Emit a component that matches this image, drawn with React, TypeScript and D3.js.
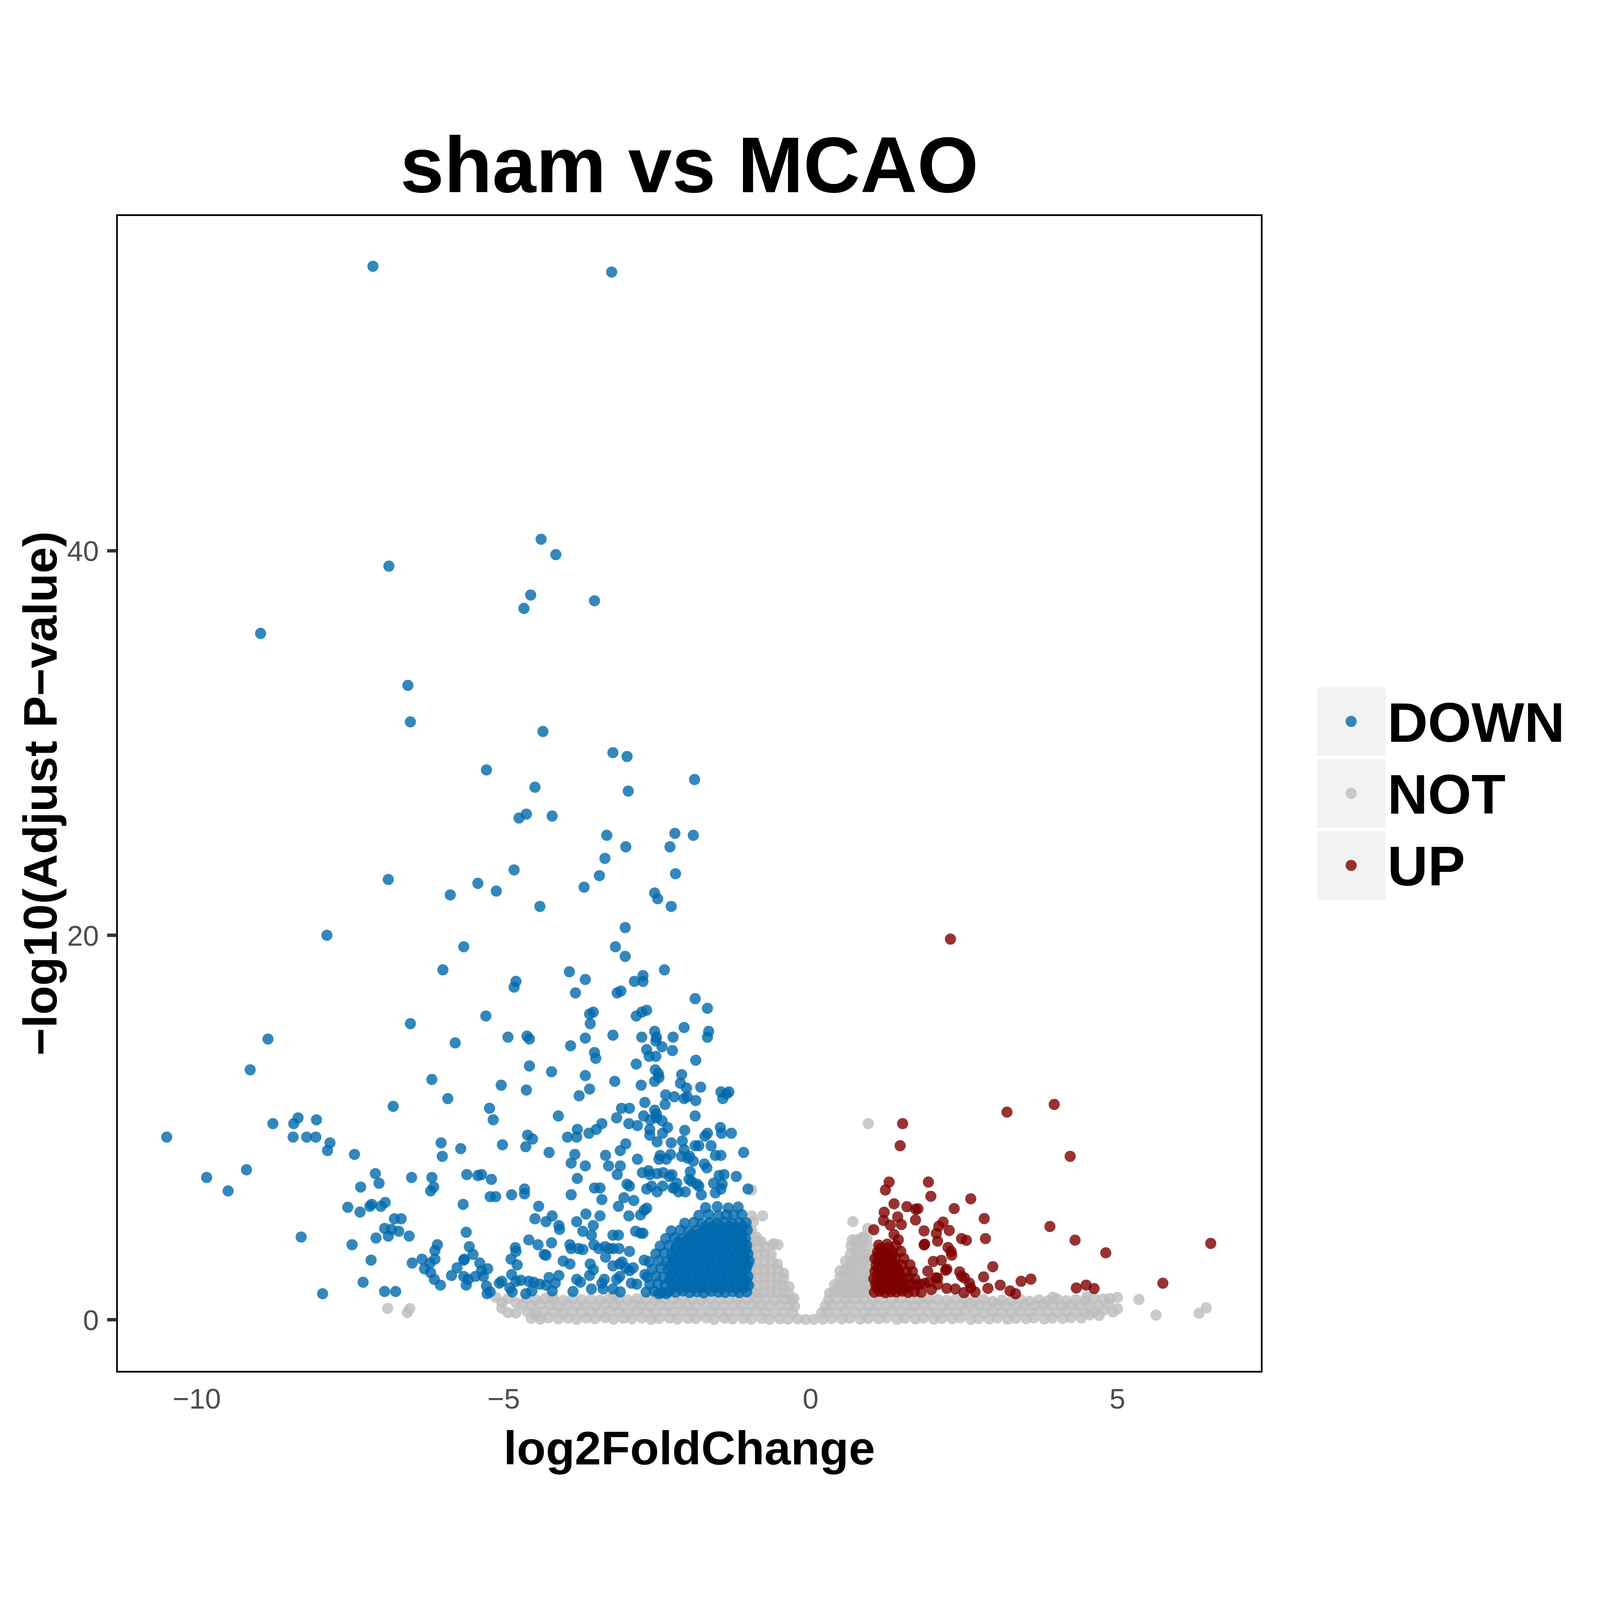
import React from "react";
import * as d3 from "d3";

type Pt = [number, number];

const categories = ["DOWN", "NOT", "UP"];
const categoryColors = ["#0069AC", "#BDBDBD", "#7E0000"];
const xTicks = [-10, -5, 0, 5];
const xTickLabels = ["\u221210", "\u22125", "0", "5"];
const yTicks = [0, 20, 40];
const yTickLabels = ["0", "20", "40"];
const xDomain = [-11.3, 7.351];
const yDomain = [-2.705, 57.46];
const chartTitle = "sham vs MCAO";
const xTitle = "log2FoldChange";
const yTitle = "\u2212log10(Adjust P\u2212value)";

// ---------- DOWN ----------
const downHigh: Pt[] = [
  [-7.13, 54.8], [-3.24, 54.5], [-4.39, 40.6], [-4.15, 39.8], [-6.87, 39.2], [-4.56, 37.7], [-4.67, 37.0],
  [-3.52, 37.4], [-8.96, 35.7], [-6.56, 33.0], [-6.52, 31.1], [-4.36, 30.6], [-3.22, 29.5], [-2.99, 29.3],
  [-5.28, 28.6], [-1.89, 28.1], [-2.97, 27.5], [-4.49, 27.7], [-4.63, 26.3], [-4.75, 26.1], [-4.21, 26.2],
  [-3.32, 25.2], [-2.21, 25.3], [-1.91, 25.2], [-3.35, 24.0], [-3.01, 24.6], [-2.29, 24.6], [-4.83, 23.4],
  [-2.2, 23.2], [-3.44, 23.1], [-6.88, 22.9], [-5.42, 22.7], [-5.12, 22.3], [-3.69, 22.5], [-2.54, 22.2],
  [-2.49, 21.9], [-5.87, 22.1], [-4.41, 21.5], [-2.27, 21.5], [-3.02, 20.4], [-7.88, 20.0],
];

const downFarLeft: Pt[] = [
  [-5.65, 19.4], [-5.99, 18.2], [-5.29, 15.8], [-6.52, 15.4], [-5.79, 14.4], [-8.84, 14.6], [-4.93, 14.7],
  [-9.13, 13.0], [-6.17, 12.5], [-5.04, 12.2], [-5.91, 11.5], [-6.8, 11.1], [-5.23, 11.0], [-8.35, 10.5],
  [-5.17, 10.4], [-8.42, 10.2], [-8.05, 10.4], [-8.76, 10.2], [-10.49, 9.5], [-8.43, 9.5], [-8.21, 9.5],
  [-8.06, 9.5], [-7.83, 9.2], [-6.02, 9.2], [-5.7, 8.9], [-5.02, 9.1], [-7.87, 8.8], [-7.43, 8.6],
  [-6.0, 8.5], [-9.19, 7.8], [-9.84, 7.4], [-9.49, 6.7], [-4.64, 9.0], [-4.26, 8.7],
];

const downMid: Pt[] = [
  [-3.18, 19.4], [-3.02, 18.9], [-3.93, 18.1], [-3.67, 17.7], [-3.83, 17.0], [-2.38, 18.2], [-2.73, 17.9],
  [-2.87, 17.6], [-2.73, 17.6], [-3.09, 17.1], [-3.15, 17.0], [-4.8, 17.6], [-4.83, 17.3], [-1.88, 16.7],
  [-1.68, 16.2], [-3.6, 15.9], [-3.54, 16.0], [-3.59, 15.4], [-2.84, 15.8], [-2.75, 16.0], [-2.67, 16.1],
  [-2.06, 15.2], [-1.66, 15.0], [-1.68, 14.7], [-4.62, 14.75], [-4.58, 14.6], [-3.67, 14.65], [-3.22, 14.8],
  [-2.75, 14.7], [-2.54, 15.0], [-2.51, 14.7], [-2.52, 14.5], [-2.42, 14.2], [-2.24, 14.7], [-2.25, 14.0],
  [-3.91, 14.25], [-3.52, 13.9], [-3.5, 13.6], [-2.67, 14.05], [-2.63, 13.7], [-2.52, 13.7], [-2.84, 13.3],
  [-1.87, 13.5], [-4.58, 13.2], [-4.22, 12.9], [-3.67, 12.7], [-2.53, 13.0], [-2.48, 12.8], [-2.47, 12.6],
  [-2.54, 12.4], [-2.1, 12.75], [-2.12, 12.3], [-2.02, 12.05], [-2.01, 11.6], [-2.06, 11.5], [-1.79, 12.1],
  [-1.46, 11.85], [-1.33, 11.85], [-1.37, 11.75], [-1.43, 11.5], [-1.87, 11.4], [-4.63, 11.95], [-3.6, 12.0],
  [-3.77, 11.65], [-3.19, 12.4], [-2.76, 12.2], [-2.36, 11.7], [-2.22, 11.6], [-2.37, 11.2], [-2.7, 11.3],
  [-4.11, 10.6], [-3.08, 11.0], [-2.95, 11.0], [-3.16, 10.5], [-2.72, 10.6], [-2.54, 10.9], [-2.51, 10.7],
  [-2.61, 10.4], [-2.51, 10.5], [-2.42, 10.35], [-2.33, 10.0], [-1.88, 10.6], [-3.4, 10.2], [-3.49, 9.9],
  [-3.61, 9.7], [-3.8, 9.9], [-3.81, 9.5], [-3.96, 9.5], [-2.96, 10.2], [-2.82, 10.1], [-2.62, 9.9],
  [-2.62, 9.6], [-2.41, 9.7], [-2.05, 9.85], [-1.47, 10.0], [-1.45, 9.7], [-1.29, 9.7], [-1.68, 9.7],
  [-1.72, 9.55], [-4.61, 9.6], [-4.53, 9.4],
];

const downLowRight: Pt[] = [
  [-2.27, 9.2], [-2.5, 9.25], [-3.01, 9.15], [-3.1, 8.8], [-3.34, 8.55], [-3.84, 8.6], [-2.82, 8.35],
  [-2.28, 8.6], [-2.45, 8.55], [-2.35, 8.35], [-2.47, 8.35], [-2.09, 9.3], [-2.06, 8.85], [-2.1, 8.5],
  [-2.0, 8.4], [-1.88, 9.05], [-1.82, 9.05], [-1.91, 8.25], [-1.97, 8.5], [-1.62, 9.05], [-1.55, 8.55],
  [-1.46, 8.55], [-1.09, 8.7], [-1.73, 8.1], [-1.69, 7.9], [-3.67, 8.0], [-3.8, 7.35], [-3.9, 8.15],
  [-3.29, 8.0], [-3.1, 8.0], [-3.15, 7.55], [-2.74, 7.65], [-2.64, 7.75], [-2.62, 7.55], [-2.5, 7.6],
  [-2.4, 7.65], [-2.26, 7.55], [-2.18, 7.1], [-2.24, 6.85], [-2.3, 7.45], [-1.96, 7.7], [-1.94, 7.2],
  [-1.98, 7.3], [-1.49, 7.5], [-1.41, 7.55], [-1.21, 7.45], [-3.52, 6.85], [-3.43, 6.85], [-2.99, 7.05],
  [-2.95, 6.95], [-2.67, 6.8], [-2.59, 6.95], [-2.41, 6.95], [-2.5, 6.65], [-2.21, 6.85], [-2.15, 6.65],
  [-2.04, 6.65], [-1.85, 7.05], [-1.82, 6.95], [-1.78, 6.5], [-1.58, 7.1], [-1.44, 7.05], [-1.46, 6.8],
  [-1.55, 6.6], [-1.02, 6.8], [-3.9, 6.5], [-3.4, 6.25], [-3.04, 6.35], [-2.88, 6.2], [-3.13, 5.9],
  [-3.66, 5.5], [-3.43, 5.4], [-3.81, 5.1], [-3.71, 4.6], [-3.57, 4.4], [-3.54, 4.9], [-3.22, 4.4],
  [-3.13, 4.4], [-2.96, 5.4], [-2.85, 4.6], [-2.77, 4.5], [-2.73, 4.5], [-2.77, 5.45], [-2.71, 5.7],
  [-2.67, 5.8], [-3.9, 3.7], [-3.78, 3.7], [-3.71, 3.65], [-3.53, 3.9], [-3.45, 3.7], [-3.35, 3.8],
  [-3.28, 3.7], [-3.22, 3.7], [-3.12, 3.7], [-2.95, 3.55], [-3.59, 2.9], [-3.54, 2.6], [-3.34, 3.25],
  [-3.22, 2.8], [-3.11, 2.9], [-3.07, 3.0], [-3.01, 2.7], [-2.89, 2.7], [-2.95, 2.55], [-2.71, 3.1],
  [-2.7, 2.35], [-3.81, 2.1], [-3.75, 1.95], [-3.6, 2.3], [-3.36, 2.1], [-3.4, 1.9], [-3.16, 2.1],
  [-3.11, 2.25], [-3.22, 1.6], [-2.92, 1.9], [-2.83, 1.85], [-3.87, 1.47], [-3.57, 1.6], [-3.38, 1.6],
  [-3.1, 1.45], [-2.47, 1.36], [-2.35, 1.36],
];

const downLowLeft: Pt[] = [
  [-7.09, 7.6], [-6.5, 7.4], [-6.17, 7.4], [-6.14, 6.9], [-6.19, 6.7], [-7.03, 7.1], [-7.33, 6.9],
  [-5.6, 7.55], [-5.42, 7.5], [-5.36, 7.55], [-5.2, 7.3], [-4.66, 6.8], [-4.66, 6.55], [-5.22, 6.4],
  [-5.13, 6.4], [-4.87, 6.5], [-5.66, 6.0], [-7.54, 5.85], [-7.34, 5.6], [-7.15, 6.0], [-7.18, 5.9],
  [-7.0, 5.9], [-6.93, 6.1], [-4.43, 5.9], [-4.21, 5.4], [-4.31, 5.1], [-4.49, 5.25], [-4.1, 4.9],
  [-4.09, 4.7], [-6.78, 5.25], [-6.67, 5.25], [-6.94, 4.75], [-6.83, 4.7], [-6.71, 4.6], [-6.88, 4.35],
  [-7.08, 4.25], [-6.54, 4.35], [-8.3, 4.3], [-7.47, 3.9], [-7.16, 3.1], [-7.29, 1.95], [-7.95, 1.35],
  [-6.94, 1.47], [-6.76, 1.47], [-5.61, 4.55], [-5.56, 3.8], [-5.5, 3.4], [-5.64, 3.15], [-5.65, 3.1],
  [-6.08, 3.9], [-6.12, 3.6], [-6.12, 3.15], [-6.2, 2.95], [-6.33, 3.15], [-6.49, 2.95], [-6.29, 2.65],
  [-6.19, 2.45], [-6.13, 2.1], [-6.03, 1.8], [-5.76, 2.7], [-5.85, 2.3], [-5.65, 2.25], [-5.61, 1.8],
  [-5.58, 2.1], [-5.46, 2.25], [-5.39, 2.95], [-5.36, 2.55], [-5.26, 2.65], [-5.33, 2.25], [-5.28, 1.75],
  [-5.27, 1.35], [-5.22, 1.45], [-5.03, 2.0], [-5.07, 1.9], [-4.87, 2.35], [-4.81, 3.75], [-4.8, 3.55],
  [-4.88, 3.15], [-4.78, 2.85], [-4.9, 1.65], [-4.86, 1.45], [-4.8, 2.0], [-4.72, 2.05], [-4.59, 2.0],
  [-4.51, 1.95], [-4.41, 1.85], [-4.64, 1.35], [-4.54, 1.5], [-4.31, 1.8], [-4.21, 1.5], [-4.26, 2.2],
  [-4.1, 2.3], [-4.16, 1.9], [-4.59, 4.15], [-4.44, 3.9], [-4.22, 4.0], [-4.34, 3.4], [-4.31, 3.35],
  [-4.03, 3.05], [-3.92, 2.9], [-3.92, 3.9],
];

const downDense: Pt[] = [
  [-2.68, 1.44], [-2.55, 1.49], [-2.42, 1.41], [-2.31, 1.47], [-2.2, 1.43], [-2.08, 1.5], [-1.97, 1.42],
  [-1.85, 1.46], [-1.74, 1.4], [-1.62, 1.48], [-1.5, 1.44], [-1.39, 1.42], [-1.27, 1.47], [-1.16, 1.41], [-1.04, 1.45],
  [-2.62, 1.83], [-2.49, 1.88], [-2.37, 1.8], [-2.25, 1.86], [-2.13, 1.82], [-2.02, 1.89], [-1.9, 1.84],
  [-1.79, 1.8], [-1.67, 1.87], [-1.56, 1.83], [-1.44, 1.88], [-1.33, 1.81], [-1.21, 1.86], [-1.09, 1.84], [-1.01, 1.79],
  [-2.66, 2.22], [-2.52, 2.27], [-2.4, 2.2], [-2.28, 2.26], [-2.16, 2.24], [-2.05, 2.29], [-1.93, 2.21],
  [-1.81, 2.25], [-1.7, 2.28], [-1.58, 2.2], [-1.47, 2.26], [-1.35, 2.23], [-1.24, 2.28], [-1.12, 2.21], [-1.02, 2.25],
  [-2.58, 2.63], [-2.44, 2.68], [-2.32, 2.6], [-2.2, 2.66], [-2.09, 2.62], [-1.97, 2.69], [-1.86, 2.64],
  [-1.74, 2.61], [-1.62, 2.67], [-1.51, 2.63], [-1.39, 2.68], [-1.28, 2.6], [-1.16, 2.65], [-1.05, 2.62],
  [-2.63, 3.02], [-2.47, 3.07], [-2.35, 3.0], [-2.23, 3.06], [-2.11, 3.03], [-2.0, 3.09], [-1.88, 3.01],
  [-1.77, 3.05], [-1.65, 3.08], [-1.53, 3.02], [-1.42, 3.06], [-1.3, 3.03], [-1.19, 3.08], [-1.07, 3.01], [-1.0, 3.05],
  [-2.52, 3.43], [-2.38, 3.48], [-2.26, 3.41], [-2.14, 3.46], [-2.02, 3.44], [-1.91, 3.49], [-1.79, 3.42],
  [-1.68, 3.45], [-1.56, 3.47], [-1.45, 3.41], [-1.33, 3.46], [-1.22, 3.43], [-1.1, 3.48], [-1.02, 3.42],
  [-2.45, 3.83], [-2.31, 3.87], [-2.19, 3.81], [-2.07, 3.86], [-1.96, 3.84], [-1.84, 3.88], [-1.72, 3.82],
  [-1.61, 3.85], [-1.49, 3.87], [-1.38, 3.81], [-1.26, 3.86], [-1.15, 3.84], [-1.04, 3.88],
  [-2.36, 4.22], [-2.22, 4.27], [-2.1, 4.21], [-1.98, 4.26], [-1.87, 4.24], [-1.75, 4.28], [-1.64, 4.22],
  [-1.52, 4.25], [-1.41, 4.27], [-1.29, 4.21], [-1.18, 4.26], [-1.06, 4.23],
  [-2.27, 4.62], [-2.12, 4.67], [-1.99, 4.6], [-1.86, 4.66], [-1.74, 4.63], [-1.62, 4.68], [-1.5, 4.61],
  [-1.38, 4.65], [-1.27, 4.67], [-1.15, 4.62], [-1.03, 4.66],
  [-2.05, 5.02], [-1.9, 5.07], [-1.77, 5.0], [-1.64, 5.06], [-1.52, 5.03], [-1.4, 5.08], [-1.28, 5.01],
  [-1.16, 5.05], [-1.05, 5.04],
  [-1.82, 5.43], [-1.66, 5.48], [-1.5, 5.41], [-1.37, 5.46], [-1.25, 5.44], [-1.12, 5.47],
  [-1.71, 5.83], [-1.52, 5.88], [-1.34, 5.81], [-1.18, 5.86],
];

const downCore: Pt[] = [
  [-2.25, 1.66], [-2.13, 1.63], [-2.01, 1.68], [-1.9, 1.64], [-1.78, 1.67], [-1.67, 1.62], [-1.55, 1.66],
  [-1.44, 1.64], [-1.32, 1.69], [-1.21, 1.63], [-1.1, 1.66],
  [-2.3, 2.04], [-2.19, 2.07], [-2.07, 2.03], [-1.96, 2.06], [-1.84, 2.02], [-1.73, 2.08], [-1.61, 2.05],
  [-1.5, 2.03], [-1.38, 2.07], [-1.27, 2.04], [-1.15, 2.06], [-1.05, 2.02],
  [-2.26, 2.44], [-2.14, 2.47], [-2.03, 2.43], [-1.91, 2.46], [-1.8, 2.42], [-1.68, 2.48], [-1.57, 2.44],
  [-1.45, 2.46], [-1.34, 2.43], [-1.22, 2.47], [-1.11, 2.45],
  [-2.29, 2.84], [-2.17, 2.87], [-2.06, 2.83], [-1.94, 2.86], [-1.83, 2.82], [-1.71, 2.88], [-1.59, 2.85],
  [-1.48, 2.83], [-1.36, 2.87], [-1.25, 2.84], [-1.13, 2.86], [-1.03, 2.83],
  [-2.24, 3.24], [-2.12, 3.27], [-2.01, 3.23], [-1.89, 3.26], [-1.78, 3.22], [-1.66, 3.28], [-1.55, 3.25],
  [-1.43, 3.23], [-1.32, 3.27], [-1.2, 3.24], [-1.08, 3.26],
  [-2.2, 3.64], [-2.08, 3.67], [-1.97, 3.63], [-1.85, 3.66], [-1.74, 3.62], [-1.62, 3.68], [-1.51, 3.65],
  [-1.39, 3.63], [-1.28, 3.67], [-1.16, 3.64], [-1.05, 3.66],
  [-2.15, 4.04], [-2.03, 4.07], [-1.92, 4.03], [-1.8, 4.06], [-1.69, 4.02], [-1.57, 4.08], [-1.46, 4.05],
  [-1.34, 4.03], [-1.23, 4.07], [-1.11, 4.04],
  [-1.93, 4.44], [-1.81, 4.47], [-1.7, 4.43], [-1.58, 4.46], [-1.46, 4.42], [-1.35, 4.48], [-1.23, 4.45],
  [-1.12, 4.43],
  [-1.71, 4.84], [-1.58, 4.87], [-1.46, 4.83], [-1.33, 4.86], [-1.21, 4.82], [-1.1, 4.85],
];

// ---------- UP ----------
const upSparse: Pt[] = [
  [2.28, 19.8], [3.2, 10.8], [3.97, 11.2], [4.23, 8.5], [1.5, 10.2], [1.46, 9.05], [1.28, 7.16],
  [1.22, 6.75], [1.92, 7.16], [1.96, 6.42], [2.61, 6.29], [1.36, 6.03], [1.57, 5.88], [1.71, 5.75],
  [1.75, 5.77], [2.34, 5.78], [1.2, 5.59], [1.42, 5.35], [1.71, 5.19], [2.83, 5.26], [1.19, 5.16],
  [1.3, 4.92], [1.48, 4.95], [2.16, 5.08], [2.09, 4.86], [2.26, 4.64], [1.85, 4.62], [2.05, 4.49],
  [1.03, 4.68], [1.36, 4.43], [2.46, 4.22], [2.54, 4.13], [2.85, 4.22], [2.07, 4.09], [1.85, 3.89],
  [1.43, 4.16], [2.24, 3.76], [2.3, 3.36], [2.0, 3.03], [2.13, 3.09], [2.97, 2.76], [2.22, 2.63],
  [2.43, 2.49], [2.82, 2.23], [3.43, 2.0], [3.59, 2.11], [2.89, 1.63], [3.09, 1.8], [3.25, 1.5],
  [3.34, 1.35], [2.59, 1.9], [2.68, 1.44], [2.51, 2.17], [2.36, 1.6], [2.22, 1.63], [1.97, 1.57],
  [2.07, 2.17], [1.93, 1.96], [1.78, 1.84], [3.9, 4.85], [4.31, 4.14], [4.81, 3.48], [6.52, 3.97],
  [5.74, 1.9], [4.33, 1.65], [4.49, 1.8], [4.62, 1.62], [2.2, 2.57], [2.46, 2.27], [2.61, 1.66],
  [2.5, 1.41], [2.04, 2.18], [2.07, 1.84], [1.91, 2.53], [1.86, 1.89], [2.29, 3.55], [1.86, 3.93],
];

const upDense: Pt[] = [
  [1.04, 1.43], [1.13, 1.48], [1.22, 1.41], [1.31, 1.46], [1.4, 1.44], [1.5, 1.49], [1.59, 1.42], [1.69, 1.47], [1.8, 1.43],
  [1.06, 1.82], [1.15, 1.78], [1.25, 1.84], [1.34, 1.8], [1.44, 1.86], [1.53, 1.79], [1.63, 1.83], [1.72, 1.81],
  [1.03, 2.13], [1.12, 2.18], [1.21, 2.12], [1.31, 2.16], [1.4, 2.19], [1.5, 2.14], [1.6, 2.17], [1.7, 2.12],
  [1.05, 2.52], [1.14, 2.47], [1.24, 2.53], [1.33, 2.49], [1.43, 2.54], [1.56, 2.48], [1.66, 2.51],
  [1.07, 2.83], [1.17, 2.88], [1.27, 2.82], [1.37, 2.87], [1.49, 2.84], [1.62, 2.86],
  [1.05, 3.18], [1.15, 3.23], [1.26, 3.17], [1.38, 3.22], [1.52, 3.19],
  [1.09, 3.53], [1.2, 3.58], [1.33, 3.52], [1.47, 3.56],
  [1.11, 3.88], [1.25, 3.93], [1.39, 3.87],
];

const upCore: Pt[] = [
  [1.09, 1.62], [1.18, 1.64], [1.27, 1.6], [1.36, 1.63], [1.45, 1.61], [1.55, 1.64],
  [1.08, 1.98], [1.17, 2.0], [1.26, 1.96], [1.36, 1.99], [1.45, 1.97],
  [1.09, 2.33], [1.17, 2.35], [1.26, 2.31], [1.36, 2.34], [1.46, 2.32],
  [1.1, 2.68], [1.2, 2.7], [1.3, 2.66], [1.41, 2.69],
  [1.1, 3.02], [1.21, 3.04], [1.32, 3.0],
  [1.1, 3.37], [1.21, 3.39], [1.33, 3.35],
  [1.14, 3.72], [1.27, 3.74],
];

// ---------- NOT ----------
const notRowA: Pt[] = [
  [-4.55, 0.07], [-4.4, 0.03], [-4.27, 0.1], [-4.11, 0.04], [-3.95, 0.08], [-3.81, 0.02], [-3.65, 0.09],
  [-3.51, 0.05], [-3.35, 0.11], [-3.21, 0.03], [-3.05, 0.07], [-2.91, 0.04], [-2.75, 0.1], [-2.6, 0.02],
  [-2.47, 0.06], [-2.3, 0.09], [-2.17, 0.03], [-2.0, 0.07], [-1.87, 0.05], [-1.7, 0.1], [-1.57, 0.02],
  [-1.4, 0.08], [-1.27, 0.04], [-1.1, 0.06], [-0.97, 0.03], [-0.8, 0.07], [-0.67, 0.02], [-0.5, 0.05],
  [-0.37, 0.03], [-0.21, 0.04], [-0.08, 0.01], [0.05, 0.02], [0.2, 0.03], [0.34, 0.06], [0.51, 0.04],
  [0.64, 0.08], [0.81, 0.03], [0.94, 0.07], [1.11, 0.05], [1.24, 0.1], [1.41, 0.02], [1.54, 0.08],
  [1.71, 0.04], [1.84, 0.09], [2.01, 0.03], [2.14, 0.07], [2.31, 0.05], [2.44, 0.1], [2.61, 0.02],
  [2.74, 0.06], [2.91, 0.04], [3.04, 0.09], [3.21, 0.03], [3.34, 0.07], [3.51, 0.05], [3.64, 0.1],
  [3.81, 0.04], [3.94, 0.08], [4.11, 0.06], [4.24, 0.11], [4.41, 0.09],
];

const notRowB: Pt[] = [
  [-4.62, 0.43], [-4.48, 0.38], [-4.33, 0.45], [-4.18, 0.4], [-4.03, 0.36], [-3.88, 0.44], [-3.73, 0.39],
  [-3.58, 0.42], [-3.43, 0.37], [-3.28, 0.46], [-3.13, 0.41], [-2.98, 0.38], [-2.83, 0.44], [-2.68, 0.4],
  [-2.53, 0.36], [-2.38, 0.43], [-2.23, 0.39], [-2.08, 0.45], [-1.93, 0.41], [-1.78, 0.37], [-1.63, 0.44],
  [-1.48, 0.4], [-1.33, 0.38], [-1.18, 0.43], [-1.03, 0.39], [-0.88, 0.45], [-0.73, 0.41], [-0.58, 0.37],
  [-0.43, 0.42], [-0.29, 0.38], [0.18, 0.36], [0.27, 0.42], [0.42, 0.39], [0.57, 0.44], [0.72, 0.4],
  [0.87, 0.37], [1.02, 0.43], [1.17, 0.39], [1.32, 0.45], [1.47, 0.41], [1.62, 0.38], [1.77, 0.44],
  [1.92, 0.4], [2.07, 0.36], [2.22, 0.43], [2.37, 0.39], [2.52, 0.45], [2.67, 0.41], [2.82, 0.37],
  [2.97, 0.44], [3.12, 0.4], [3.27, 0.38], [3.42, 0.43], [3.57, 0.39], [3.72, 0.45], [3.87, 0.41],
  [4.02, 0.37], [4.17, 0.44], [4.32, 0.4], [4.47, 0.36], [4.62, 0.43],
];

const notRowC: Pt[] = [
  [-4.7, 0.78], [-4.55, 0.73], [-4.41, 0.8], [-4.25, 0.75], [-4.1, 0.71], [-3.96, 0.79], [-3.8, 0.74],
  [-3.66, 0.77], [-3.5, 0.72], [-3.35, 0.8], [-3.2, 0.76], [-3.06, 0.73], [-2.9, 0.79], [-2.76, 0.75],
  [-2.61, 0.71], [-2.45, 0.78], [-2.31, 0.74], [-2.15, 0.8], [-2.01, 0.76], [-1.86, 0.72], [-1.7, 0.79],
  [-1.56, 0.75], [-1.41, 0.73], [-1.25, 0.78], [-1.11, 0.74], [-0.95, 0.8], [-0.81, 0.76], [-0.66, 0.72],
  [-0.5, 0.77], [-0.36, 0.73], [-0.26, 0.7], [0.24, 0.72], [0.35, 0.77], [0.5, 0.74], [0.64, 0.79],
  [0.8, 0.75], [0.95, 0.72], [1.09, 0.78], [1.25, 0.74], [1.39, 0.8], [1.55, 0.76], [1.69, 0.73],
  [1.85, 0.79], [1.99, 0.75], [2.15, 0.71], [2.29, 0.78], [2.45, 0.74], [2.59, 0.8], [2.75, 0.76],
  [2.89, 0.72], [3.05, 0.79], [3.19, 0.75], [3.35, 0.73], [3.49, 0.78], [3.65, 0.74], [3.79, 0.8],
  [3.95, 0.76], [4.09, 0.72], [4.25, 0.79], [4.39, 0.75], [4.55, 0.71], [4.69, 0.78],
];

const notRowD: Pt[] = [
  [-4.63, 1.08], [-4.48, 1.03], [-4.33, 1.1], [-4.18, 1.05], [-4.03, 1.0], [-3.88, 1.09], [-3.73, 1.04],
  [-3.58, 1.07], [-3.43, 1.02], [-3.28, 1.1], [-3.13, 1.06], [-2.98, 1.03], [-2.83, 1.09], [-2.68, 1.05],
  [-2.53, 1.01], [-2.38, 1.08], [-2.23, 1.04], [-2.08, 1.1], [-1.93, 1.06], [-1.78, 1.02], [-1.63, 1.09],
  [-1.48, 1.05], [-1.33, 1.03], [-1.18, 1.08], [-1.03, 1.04], [-0.88, 1.1], [-0.73, 1.06], [-0.58, 1.02],
  [-0.43, 1.07], [-0.31, 1.03], [0.29, 1.02], [0.42, 1.08], [0.57, 1.04], [0.72, 1.09], [0.87, 1.05],
  [1.02, 1.02], [1.17, 1.08], [1.32, 1.04], [1.47, 1.1], [1.62, 1.06], [1.77, 1.03], [1.92, 1.09],
  [2.07, 1.05], [2.22, 1.01], [2.37, 1.08], [2.52, 1.04], [2.67, 0.98], [2.82, 1.06], [2.97, 0.95],
  [3.12, 1.02], [3.27, 0.97], [3.42, 1.05], [3.57, 0.96], [3.72, 1.03], [3.87, 0.98], [4.02, 1.07],
  [4.17, 0.99], [4.32, 1.04], [4.47, 1.0], [4.62, 1.12], [4.77, 1.08],
];

const notTails: Pt[] = [
  [-5.13, 1.17], [-5.03, 0.89], [-5.03, 0.6], [-4.93, 0.37], [-4.8, 0.35], [-4.93, 1.1], [-4.8, 0.9],
  [-4.47, 0.2], [-4.2, 1.2], [-3.2, 1.22], [-2.5, 1.25], [3.95, 1.18], [4.5, 1.2],
  [4.55, 0.25], [4.7, 0.22], [4.78, 0.5], [4.86, 0.82], [4.93, 0.4], [5.0, 0.57], [5.0, 1.16],
  [4.88, 1.1], [5.35, 1.05], [5.63, 0.24], [6.33, 0.34], [6.45, 0.62],
  [-6.89, 0.59], [-6.53, 0.58], [-6.57, 0.37],
];

const notV: Pt[] = [
  [-0.97, 1.42], [-0.97, 1.8], [-0.97, 2.2], [-0.97, 2.6], [-0.97, 3.0], [-0.97, 3.4], [-0.97, 3.8],
  [-0.97, 4.2], [-0.96, 4.65], [-0.87, 1.38], [-0.87, 1.78], [-0.86, 2.18], [-0.86, 2.58], [-0.87, 2.98],
  [-0.86, 3.38], [-0.86, 3.78], [-0.85, 4.1], [-0.76, 1.4], [-0.76, 1.8], [-0.75, 2.2], [-0.75, 2.6],
  [-0.76, 3.0], [-0.74, 3.4], [-0.75, 3.8], [-0.65, 1.42], [-0.65, 1.82], [-0.64, 2.22], [-0.64, 2.62],
  [-0.63, 3.02], [-0.64, 3.4], [-0.55, 1.4], [-0.54, 1.8], [-0.54, 2.2], [-0.53, 2.6], [-0.54, 2.9],
  [-0.45, 1.38], [-0.45, 1.78], [-0.44, 2.15], [-0.44, 2.42], [-0.36, 1.4], [-0.35, 1.72], [-0.27, 1.12],
  [-0.96, 6.75], [-0.96, 5.4], [-0.78, 5.4], [-0.93, 5.1], [-0.6, 3.95], [-0.53, 3.9], [-0.62, 3.9],
  [-0.8, 4.05], [-0.88, 4.3],
  [0.31, 1.38], [0.38, 1.45], [0.39, 1.82], [0.47, 1.42], [0.47, 1.8], [0.48, 2.2], [0.48, 2.55],
  [0.56, 1.4], [0.56, 1.8], [0.57, 2.2], [0.56, 2.6], [0.57, 3.05], [0.65, 1.42], [0.65, 1.82],
  [0.66, 2.22], [0.65, 2.62], [0.66, 3.02], [0.65, 3.42], [0.66, 3.85], [0.74, 1.38], [0.74, 1.78],
  [0.75, 2.18], [0.74, 2.58], [0.75, 2.98], [0.74, 3.38], [0.75, 3.78], [0.74, 4.15], [0.83, 1.4],
  [0.83, 1.8], [0.84, 2.2], [0.83, 2.6], [0.84, 3.0], [0.83, 3.4], [0.84, 3.8], [0.83, 4.25],
  [0.92, 1.42], [0.92, 1.82], [0.93, 2.22], [0.92, 2.62], [0.93, 3.02], [0.92, 3.42], [0.93, 3.82],
  [0.92, 4.2], [0.98, 1.6], [0.98, 2.4], [0.98, 3.2], [0.69, 5.1], [0.93, 4.75], [0.86, 4.3],
  [0.68, 4.15], [0.94, 10.2],
];

const notPoints: Pt[] = [...notRowA, ...notRowB, ...notRowC, ...notRowD, ...notTails, ...notV];
const downPoints: Pt[] = [
  ...downHigh, ...downFarLeft, ...downMid, ...downLowRight, ...downLowLeft, ...downDense, ...downCore,
];
const upPoints: Pt[] = [...upSparse, ...upDense, ...upCore];

const FONT = "'Liberation Sans', Arial, Helvetica, sans-serif";

export default function App() {
  const W = 5600;
  const H = 4800;
  const left = 409.5, right = 4416, top = 353, bottom = 4401;
  const x = d3.scaleLinear().domain(xDomain).range([left, right]);
  const y = d3.scaleLinear().domain(yDomain).range([bottom, top]);
  const r = 19.5;
  const groups: [Pt[], string][] = [
    [notPoints, categoryColors[1]],
    [downPoints, categoryColors[0]],
    [upPoints, categoryColors[2]],
  ];
  const cx = (left + right) / 2;
  const cy = (top + bottom) / 2;

  return (
    <svg
      viewBox={`0 0 ${W} ${H}`}
      preserveAspectRatio="xMidYMid meet"
      style={{ position: "fixed", left: 0, top: 0, width: "100vw", height: "100vh", background: "#ffffff", display: "block" }}
      fontFamily={FONT}
    >
      <rect x={0} y={0} width={W} height={H} fill="#ffffff" />
      <text x={cx} y={272} textAnchor="middle" fontSize={276} fontWeight="bold" fill="#000000">
        {chartTitle}
      </text>
      <g>
        {groups.map(([pts, col], gi) =>
          pts.map((p, i) => (
            <circle key={`${gi}-${i}`} cx={x(p[0])} cy={y(p[1])} r={r} fill={col} fillOpacity={0.8} />
          ))
        )}
      </g>
      <rect x={left} y={top} width={right - left} height={bottom - top} fill="none" stroke="#000000" strokeWidth={6} />
      {yTicks.map((t, i) => (
        <g key={`yt${i}`}>
          <line x1={375} x2={left - 3} y1={y(t)} y2={y(t)} stroke="#333333" strokeWidth={12} />
          <text x={346} y={y(t) + 36} textAnchor="end" fontSize={100} fill="#4D4D4D">
            {yTickLabels[i]}
          </text>
        </g>
      ))}
      {xTicks.map((t, i) => (
        <text key={`xt${i}`} x={x(t)} y={4530} textAnchor="middle" fontSize={100} fill="#4D4D4D">
          {xTickLabels[i]}
        </text>
      ))}
      <text x={cx} y={4725} textAnchor="middle" fontSize={166} fontWeight="bold" fill="#000000">
        {xTitle}
      </text>
      <text
        transform={`translate(198, ${cy}) rotate(-90)`}
        textAnchor="middle"
        fontSize={166}
        fontWeight="bold"
        fill="#000000"
      >
        {yTitle}
      </text>
      {categories.map((c, i) => {
        const ky = 2005 + i * 252;
        return (
          <g key={`lg${i}`}>
            <rect x={4609} y={ky} width={240} height={240} fill="#F2F2F2" />
            <circle cx={4729} cy={ky + 120} r={r} fill={categoryColors[i]} fillOpacity={0.8} />
            <text x={4856} y={ky + 120 + 71} fontSize={196} fontWeight="bold" fill="#000000">
              {c}
            </text>
          </g>
        );
      })}
    </svg>
  );
}
